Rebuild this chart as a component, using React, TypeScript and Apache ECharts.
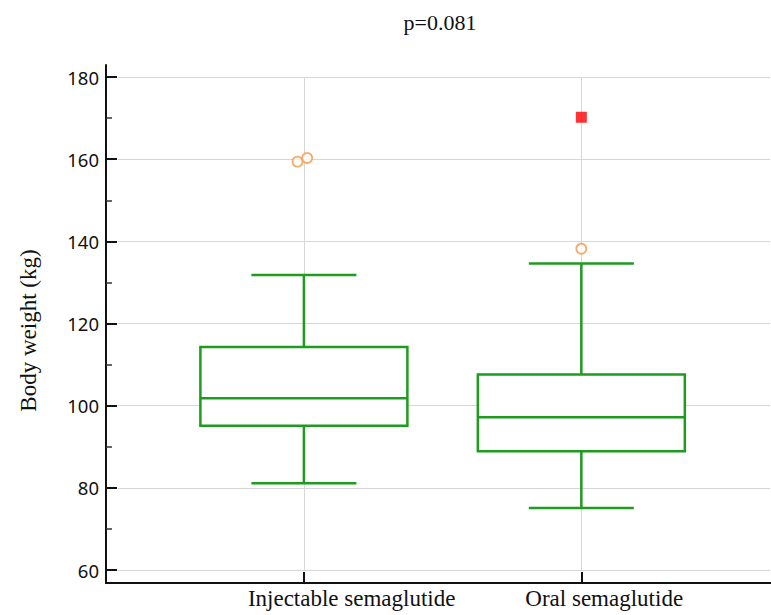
import React, { useEffect, useRef } from "react";
import * as echarts from "echarts";

const categories = ["Injectable semaglutide", "Oral semaglutide"];
const categoryPositions = [1, 2];
const whiskerLow = [81.1, 75.1];
const quartile1 = [95.1, 88.9];
const medians = [101.8, 97.2];
const quartile3 = [114.3, 107.6];
const whiskerHigh = [131.8, 134.6];
const outlierX = [0.977, 1.012, 2];
const outlierY = [159.4, 160.3, 138.2];
const extremeX = [2];
const extremeY = [170.2];
const yTicks = [60, 80, 100, 120, 140, 160, 180];
const titleText = "p=0.081";
const yName = "Body weight (kg)";

const GREEN = "#1f9b1f";
const BOX_WIDTH = 207;
const CAP_WIDTH = 105;

export default function App() {
  const ref = useRef<HTMLDivElement>(null);
  useEffect(() => {
    if (!ref.current) return;
    const chart = echarts.init(ref.current, undefined, { renderer: "svg" });
    const boxData = categoryPositions.map((x, i) => [
      x,
      whiskerLow[i],
      quartile1[i],
      medians[i],
      quartile3[i],
      whiskerHigh[i],
    ]);
    const serif = "'Liberation Serif', 'Times New Roman', serif";
    const option: any = {
      animation: false,
      backgroundColor: "#ffffff",
      grid: [
        { left: 118, right: 1, top: 77, bottom: 45 },
        { left: 106, right: 0, top: 65, bottom: 32 },
      ],
      graphic: [
        {
          type: "text",
          x: 440,
          y: 22,
          style: {
            text: titleText,
            fontFamily: serif,
            fontSize: 22,
            fill: "#111",
            align: "center",
            verticalAlign: "middle",
          },
        },
      ],
      xAxis: [
        {
          type: "value",
          gridIndex: 0,
          min: 0.33,
          max: 2.68,
          offset: 13,
          axisLine: { show: false },
          axisTick: {
            show: true,
            inside: true,
            length: 11,
            customValues: categoryPositions,
            lineStyle: { color: "#111", width: 2 },
          },
          axisLabel: {
            customValues: categoryPositions,
            formatter: (v: number) => {
              const i = categoryPositions.indexOf(v);
              return i >= 0 ? categories[i] : "";
            },
            align: "left",
            padding: [0, 0, 0, -56],
            margin: 4,
            fontFamily: serif,
            fontSize: 23,
            color: "#111",
          },
          splitLine: { show: true, lineStyle: { color: "#d6d6d6", width: 1 } },
        },
        {
          type: "value",
          gridIndex: 1,
          min: 0,
          max: 1,
          axisLine: { show: true, onZero: false, lineStyle: { color: "#111", width: 2 } },
          axisTick: { show: false },
          axisLabel: { show: false },
          splitLine: { show: false },
        },
      ],
      yAxis: [
        {
          type: "value",
          gridIndex: 0,
          min: yTicks[0],
          max: yTicks[yTicks.length - 1],
          interval: yTicks[1] - yTicks[0],
          offset: 12,
          name: yName,
          nameLocation: "middle",
          nameGap: 66,
          nameTextStyle: {
            fontFamily: serif,
            fontSize: 23,
            color: "#111",
            padding: [0, 14, 0, 0],
          },
          axisLine: { show: false },
          axisTick: { show: true, inside: true, length: 11, lineStyle: { color: "#111", width: 2 } },
          minorTick: { show: true, splitNumber: 2, length: 6, lineStyle: { color: "#333", width: 1.5 } },
          axisLabel: {
            margin: 7,
            fontFamily: "'Noto Sans', sans-serif",
            fontSize: 18.5,
            color: "#111",
          },
          splitLine: { show: true, lineStyle: { color: "#d6d6d6", width: 1 } },
        },
        {
          type: "value",
          gridIndex: 1,
          min: 0,
          max: 1,
          axisLine: { show: true, onZero: false, lineStyle: { color: "#111", width: 2 } },
          axisTick: { show: false },
          axisLabel: { show: false },
          splitLine: { show: false },
        },
      ],
      series: [
        {
          type: "custom",
          xAxisIndex: 0,
          yAxisIndex: 0,
          encode: { x: 0, y: [1, 2, 3, 4, 5] },
          data: boxData,
          z: 3,
          renderItem: (_params: any, api: any) => {
            const x = api.value(0);
            const pLow = api.coord([x, api.value(1)]);
            const pQ1 = api.coord([x, api.value(2)]);
            const pMed = api.coord([x, api.value(3)]);
            const pQ3 = api.coord([x, api.value(4)]);
            const pHigh = api.coord([x, api.value(5)]);
            const cx = pMed[0];
            const hb = BOX_WIDTH / 2;
            const hc = CAP_WIDTH / 2;
            const ls = { stroke: GREEN, lineWidth: 2.5, fill: null };
            return {
              type: "group",
              children: [
                {
                  type: "rect",
                  shape: { x: cx - hb, y: pQ3[1], width: 2 * hb, height: pQ1[1] - pQ3[1] },
                  style: { fill: "#ffffff", stroke: GREEN, lineWidth: 2.5 },
                },
                { type: "line", shape: { x1: cx - hb, y1: pMed[1], x2: cx + hb, y2: pMed[1] }, style: ls },
                { type: "line", shape: { x1: cx, y1: pQ3[1], x2: cx, y2: pHigh[1] }, style: ls },
                { type: "line", shape: { x1: cx - hc, y1: pHigh[1], x2: cx + hc, y2: pHigh[1] }, style: ls },
                { type: "line", shape: { x1: cx, y1: pQ1[1], x2: cx, y2: pLow[1] }, style: ls },
                { type: "line", shape: { x1: cx - hc, y1: pLow[1], x2: cx + hc, y2: pLow[1] }, style: ls },
              ],
            };
          },
        },
        {
          type: "scatter",
          xAxisIndex: 0,
          yAxisIndex: 0,
          z: 4,
          symbol: "circle",
          symbolSize: 10,
          itemStyle: { color: "#ffffff", borderColor: "#f79646", borderWidth: 1.8 },
          data: outlierX.map((x, i) => [x, outlierY[i]]),
        },
        {
          type: "scatter",
          xAxisIndex: 0,
          yAxisIndex: 0,
          z: 4,
          symbol: "rect",
          symbolSize: 11,
          itemStyle: { color: "#ff0000" },
          data: extremeX.map((x, i) => [x, extremeY[i]]),
        },
      ],
    };
    chart.setOption(option);
    return () => chart.dispose();
  }, []);
  return (
    <div
      ref={ref}
      style={{ position: "fixed", left: 0, top: 0, width: 771, height: 615, background: "#fff" }}
    />
  );
}
